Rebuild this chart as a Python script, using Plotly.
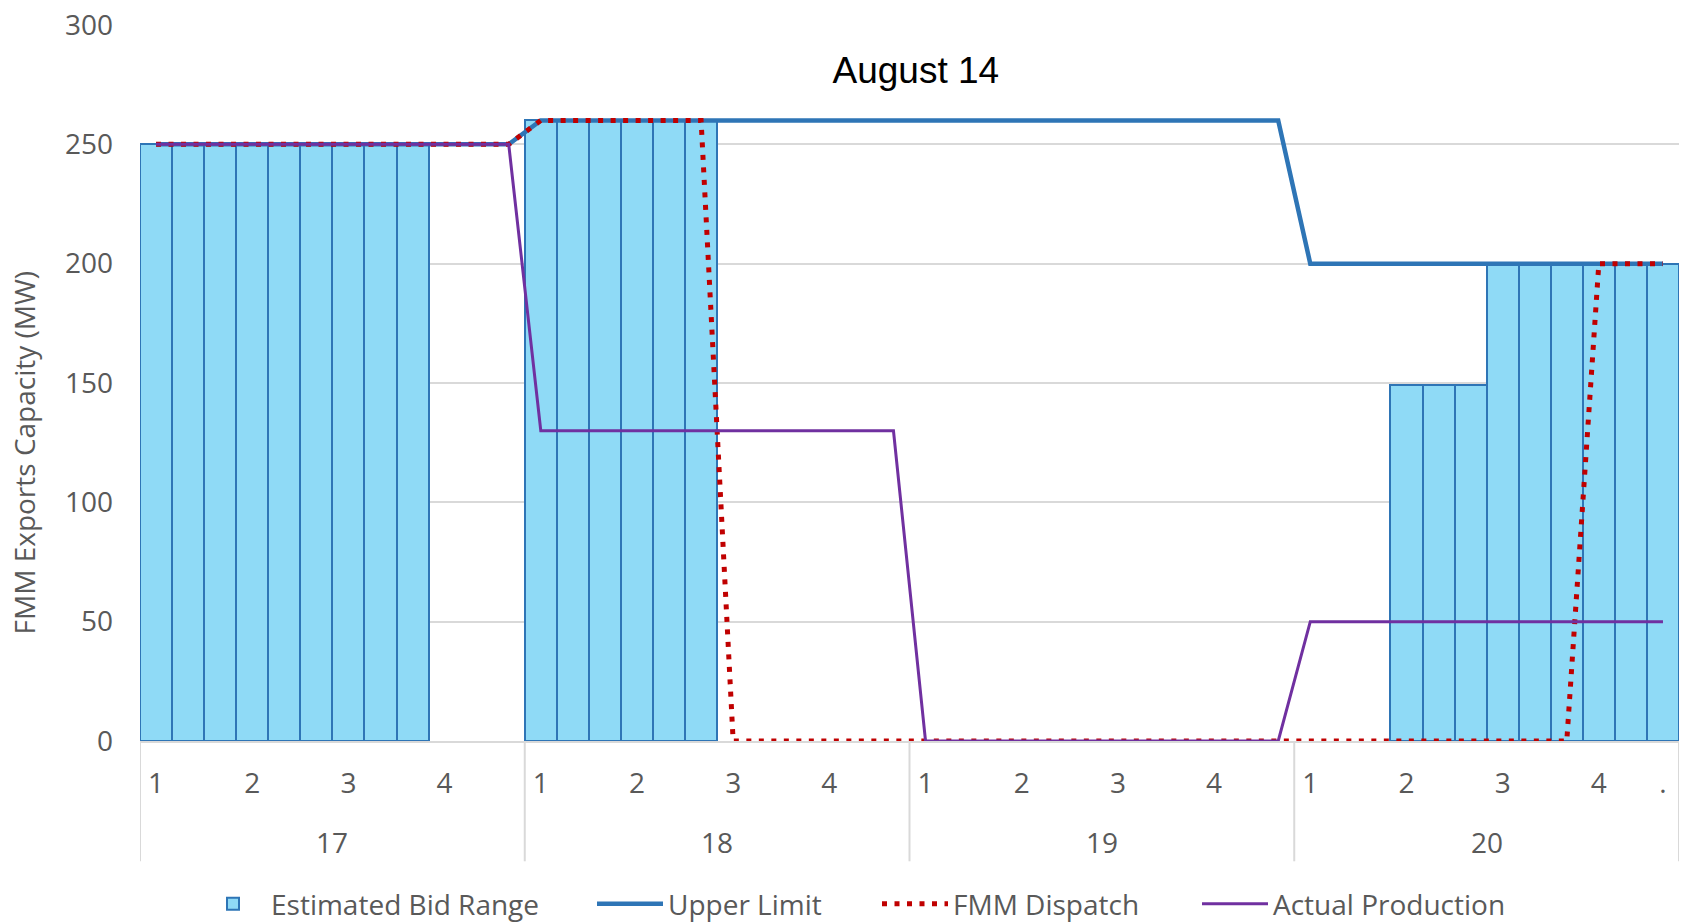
import plotly.graph_objects as go

# ---- data ----
hours = ["17", "18", "19", "20"]
quarters = ["1", "2", "3", "4"]
slots_per_quarter = 3
end_label = "."

bid_range = [
    250, 250, 250, 250, 250, 250, 250, 250, 250, None, None, None,      # 17
    260, 260, 260, 260, 260, 260, None, None, None, None, None, None,   # 18
    None, None, None, None, None, None, None, None, None, None, None, None,  # 19
    None, None, None, 149, 149, 149, 200, 200, 200, 200, 200, 200,      # 20
]
upper_limit = [
    250, 250, 250, 250, 250, 250, 250, 250, 250, 250, 250, 250,
    260, 260, 260, 260, 260, 260, 260, 260, 260, 260, 260, 260,
    260, 260, 260, 260, 260, 260, 260, 260, 260, 260, 260, 260,
    200, 200, 200, 200, 200, 200, 200, 200, 200, 200, 200, 200,
]
fmm_dispatch = [
    250, 250, 250, 250, 250, 250, 250, 250, 250, 250, 250, 250,
    260, 260, 260, 260, 260, 260, 0, 0, 0, 0, 0, 0,
    0, 0, 0, 0, 0, 0, 0, 0, 0, 0, 0, 0,
    0, 0, 0, 0, 0, 0, 0, 0, 0, 200, 200, 200,
]
actual_production = [
    250, 250, 250, 250, 250, 250, 250, 250, 250, 250, 250, 250,
    130, 130, 130, 130, 130, 130, 130, 130, 130, 130, 130, 130,
    0, 0, 0, 0, 0, 0, 0, 0, 0, 0, 0, 0,
    50, 50, 50, 50, 50, 50, 50, 50, 50, 50, 50, 50,
]

# ---- derived positions ----
slots_per_hour = len(quarters) * slots_per_quarter
n_slots = len(bid_range)
x = list(range(1, n_slots + 1))

tickvals, ticktext = [], []
for h in range(len(hours)):
    for q, lab in enumerate(quarters):
        tickvals.append(h * slots_per_hour + q * slots_per_quarter + 1)
        ticktext.append(lab)
tickvals.append(n_slots)
ticktext.append(end_label)

GREY = "#595959"
GRID = "#D9D9D9"
FONT = "Open Sans"
FS = 28

fig = go.Figure()
fig.add_trace(go.Bar(
    x=x, y=bid_range, name="Estimated Bid Range", legend="legend",
    marker=dict(color="#8FDAF6", line=dict(color="#2E75B6", width=2)),
))
fig.add_trace(go.Scatter(
    x=x, y=upper_limit, mode="lines", name="Upper Limit", legend="legend2",
    line=dict(color="#2E75B6", width=4.5),
))
fig.add_trace(go.Scatter(
    x=x, y=fmm_dispatch, mode="lines", name="FMM Dispatch", legend="legend3",
    line=dict(color="#C00000", width=5, dash="5px,7.5px"),
))
fig.add_trace(go.Scatter(
    x=x, y=actual_production, mode="lines", name="Actual Production", legend="legend4",
    line=dict(color="#7030A0", width=3),
))

shapes = []
for h in range(len(hours) + 1):
    xb = h * slots_per_hour + 0.5
    shapes.append(dict(type="line", xref="x", yref="paper", x0=xb, x1=xb,
                       y0=0, y1=-0.168, line=dict(color=GRID, width=2), layer="below"))

annotations = []
for h, lab in enumerate(hours):
    annotations.append(dict(
        text=lab, xref="x", yref="paper", x=h * slots_per_hour + (slots_per_hour + 1) / 2,
        y=-0.1417, showarrow=False, yanchor="middle",
        font=dict(family=FONT, size=FS, color=GREY)))
annotations.append(dict(
    text="FMM Exports Capacity (MW)", xref="paper", yref="paper",
    x=-0.0754, y=0.403, textangle=-90, showarrow=False,
    xanchor="center", yanchor="middle",
    font=dict(family=FONT, size=FS, color=GREY)))

def leg(xpix):
    return dict(orientation="h", x=xpix / 1684, xanchor="left", xref="container",
                y=1 - 904 / 922, yanchor="middle", yref="container",
                itemwidth=66, bgcolor="rgba(0,0,0,0)",
                font=dict(family=FONT, size=FS, color=GREY))

fig.update_layout(
    width=1684, height=922,
    margin=dict(l=140, r=5, t=21, b=181),
    plot_bgcolor="white", paper_bgcolor="white",
    bargap=0,
    title=dict(text="August 14", x=915.8 / 1684, xanchor="center", xref="container",
               y=1 - 69.7 / 922, yanchor="middle", yref="container",
               font=dict(family="Liberation Sans, Arial", size=37, color="black")),
    xaxis=dict(range=[0.5, n_slots + 0.5], tickvals=tickvals, ticktext=ticktext,
               showgrid=False, zeroline=False, showline=True, linecolor=GRID, linewidth=2,
               ticks="", ticklabelstandoff=16,
               tickfont=dict(family=FONT, size=FS, color=GREY)),
    yaxis=dict(range=[0, 300], dtick=50, showgrid=True, gridcolor=GRID, gridwidth=2,
               zeroline=False, showline=False, ticks="", ticklabelstandoff=26,
               tickfont=dict(family=FONT, size=FS, color=GREY)),
    legend=leg(195),
    legend2=leg(592),
    legend3=leg(877),
    legend4=leg(1197),
    shapes=shapes,
    annotations=annotations,
    showlegend=True,
)

fig.write_html("out.html", config={"displayModeBar": False},
               post_script="document.body.style.margin='0';")
